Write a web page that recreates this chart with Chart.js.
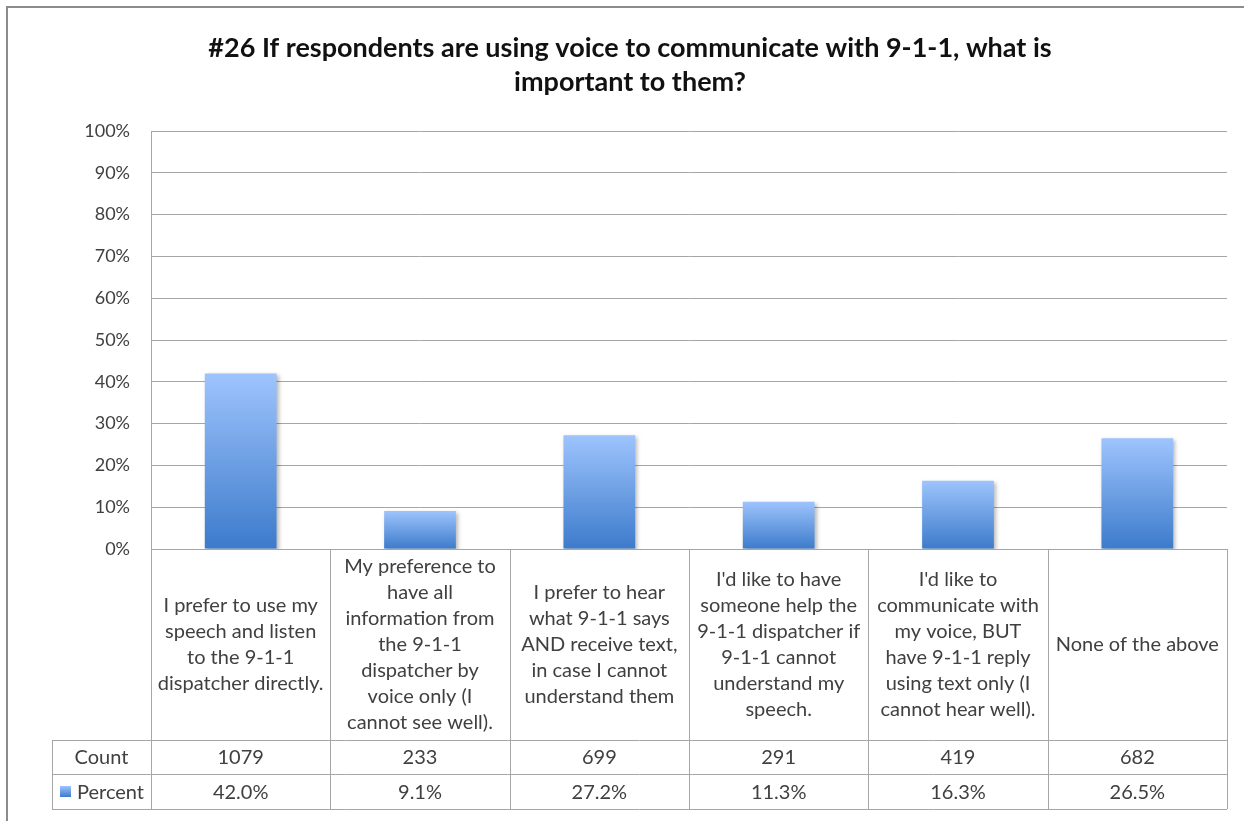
<!DOCTYPE html>
<html>
<head>
<meta charset="utf-8">
<title>#26 Voice communication with 9-1-1</title>
<script src="https://cdn.jsdelivr.net/npm/chart.js@4.4.1/dist/chart.umd.min.js"></script>
<style>
  html, body { margin: 0; padding: 0; background: #fff; }
  canvas { display: block; }
</style>
</head>
<body>
<canvas id="myChart" width="1244" height="821"></canvas>
<script>
const titleLines = ['#26 If respondents are using voice to communicate with 9-1-1, what is', 'important to them?'];
// answer options, already broken into lines as they sit in the table cells
const categories = [
  ['I prefer to use my', 'speech and listen', 'to the 9-1-1', 'dispatcher directly.'],
  ['My preference to', 'have all', 'information from', 'the 9-1-1', 'dispatcher by', 'voice only (I', 'cannot see well).'],
  ['I prefer to hear', 'what 9-1-1 says', 'AND receive text,', 'in case I cannot', 'understand them'],
  ["I'd like to have", 'someone help the', '9-1-1 dispatcher if', '9-1-1 cannot', 'understand my', 'speech.'],
  ["I'd like to", 'communicate with', 'my voice, BUT', 'have 9-1-1 reply', 'using text only (I', 'cannot hear well).'],
  ['None of the above']
];
const counts = [1079, 233, 699, 291, 419, 682];
const percents = [42.0, 9.1, 27.2, 11.3, 16.3, 26.5];
const yMax = 100;
const yStep = 10;

const FONT = 'Lato, "Open Sans", sans-serif';
const GRID = '#a6a6a6';
const TEXT = '#404040';

function barGradient(ctx, top, bottom) {
  const g = ctx.createLinearGradient(0, top, 0, bottom);
  g.addColorStop(0, '#9ec4fd');
  g.addColorStop(1, '#3c7bcb');
  return g;
}

// outer frame and the two-line heading
const framePlugin = {
  id: 'frame',
  beforeDraw(chart) {
    const ctx = chart.ctx;
    ctx.save();
    ctx.strokeStyle = '#8c8c8c';
    ctx.lineWidth = 2;
    ctx.beginPath();
    ctx.moveTo(7, chart.height + 5);
    ctx.lineTo(7, 7);
    ctx.lineTo(chart.width + 5, 7);
    ctx.stroke();

    ctx.fillStyle = '#111';
    ctx.font = 'bold 27px ' + FONT;
    ctx.textAlign = 'center';
    ctx.textBaseline = 'middle';
    titleLines.forEach((t, i) => ctx.fillText(t, 630, 48 + i * 34));
    ctx.restore();
  }
};

// soft drop shadow under the bars
const shadowPlugin = {
  id: 'barShadow',
  beforeDatasetsDraw(chart) {
    const ctx = chart.ctx;
    ctx.save();
    ctx.shadowColor = 'rgba(0,0,0,0.28)';
    ctx.shadowBlur = 4;
    ctx.shadowOffsetX = 2;
    ctx.shadowOffsetY = 2;
  },
  afterDatasetsDraw(chart) {
    chart.ctx.restore();
  }
};

// data table under the plot: category names, counts and percentages
const tablePlugin = {
  id: 'dataTable',
  afterDraw(chart) {
    const ctx = chart.ctx;
    const area = chart.chartArea;
    const x = chart.scales.x;
    const half = (x.getPixelForValue(1) - x.getPixelForValue(0)) / 2;
    const tableLeft = 52;
    const catTop = area.bottom;
    const countTop = 740;
    const pctTop = 774;
    const tableBottom = 809;

    ctx.save();
    ctx.strokeStyle = GRID;
    ctx.lineWidth = 1;
    ctx.beginPath();
    // horizontal rules
    ctx.moveTo(area.left, catTop + 0.5); ctx.lineTo(area.right, catTop + 0.5);
    [countTop, pctTop, tableBottom].forEach(y => {
      ctx.moveTo(tableLeft, y + 0.5); ctx.lineTo(area.right, y + 0.5);
    });
    // vertical rules
    ctx.moveTo(tableLeft + 0.5, countTop); ctx.lineTo(tableLeft + 0.5, tableBottom);
    ctx.moveTo(area.left + 0.5, catTop); ctx.lineTo(area.left + 0.5, tableBottom);
    categories.forEach((c, i) => {
      const edge = Math.round(x.getPixelForValue(i) + half) + 0.5;
      ctx.moveTo(edge, catTop); ctx.lineTo(edge, tableBottom);
    });
    ctx.stroke();

    ctx.fillStyle = TEXT;
    ctx.font = '20px ' + FONT;
    ctx.textAlign = 'center';
    ctx.textBaseline = 'middle';
    const lineH = 26;
    const catMid = (catTop + countTop) / 2;
    categories.forEach((lines, i) => {
      const cx = x.getPixelForValue(i);
      const y0 = catMid - (lines.length - 1) * lineH / 2;
      lines.forEach((t, j) => ctx.fillText(t, cx, y0 + j * lineH));
      ctx.fillText(String(counts[i]), cx, (countTop + pctTop) / 2 + 1);
      ctx.fillText(percents[i].toFixed(1) + '%', cx, (pctTop + tableBottom) / 2 + 1);
    });

    // row headers
    ctx.fillText('Count', (tableLeft + area.left) / 2, (countTop + pctTop) / 2 + 1);
    ctx.textAlign = 'left';
    ctx.fillText('Percent', 77, (pctTop + tableBottom) / 2 + 1);
    ctx.fillStyle = barGradient(ctx, 786, 797);
    ctx.fillRect(60, 786, 11, 11);
    ctx.restore();
  }
};

new Chart(document.getElementById('myChart'), {
  type: 'bar',
  data: {
    labels: categories.map(c => c.join(' ')),
    datasets: [{
      label: 'Percent',
      data: percents,
      backgroundColor(context) {
        const chart = context.chart;
        const y = chart.scales.y;
        if (!chart.chartArea || !y) return '#6a9de6';
        const v = context.parsed ? context.parsed.y : percents[context.dataIndex];
        return barGradient(chart.ctx, y.getPixelForValue(v), y.getPixelForValue(0));
      },
      borderWidth: 0,
      categoryPercentage: 1,
      barPercentage: 0.4
    }]
  },
  options: {
    responsive: false,
    animation: false,
    layout: { padding: { left: 0, right: 17, top: 131, bottom: 272 } },
    plugins: {
      legend: { display: false },
      tooltip: { enabled: false }
    },
    scales: {
      x: { display: false },
      y: {
        min: 0,
        max: yMax,
        afterFit(scale) { scale.width = 151; },
        border: { display: true, color: GRID },
        grid: { color: GRID, drawTicks: false },
        ticks: {
          stepSize: yStep,
          padding: 21,
          color: TEXT,
          font: { family: FONT, size: 18 },
          callback: v => v + '%'
        }
      }
    }
  },
  plugins: [framePlugin, shadowPlugin, tablePlugin]
});
</script>
</body>
</html>
